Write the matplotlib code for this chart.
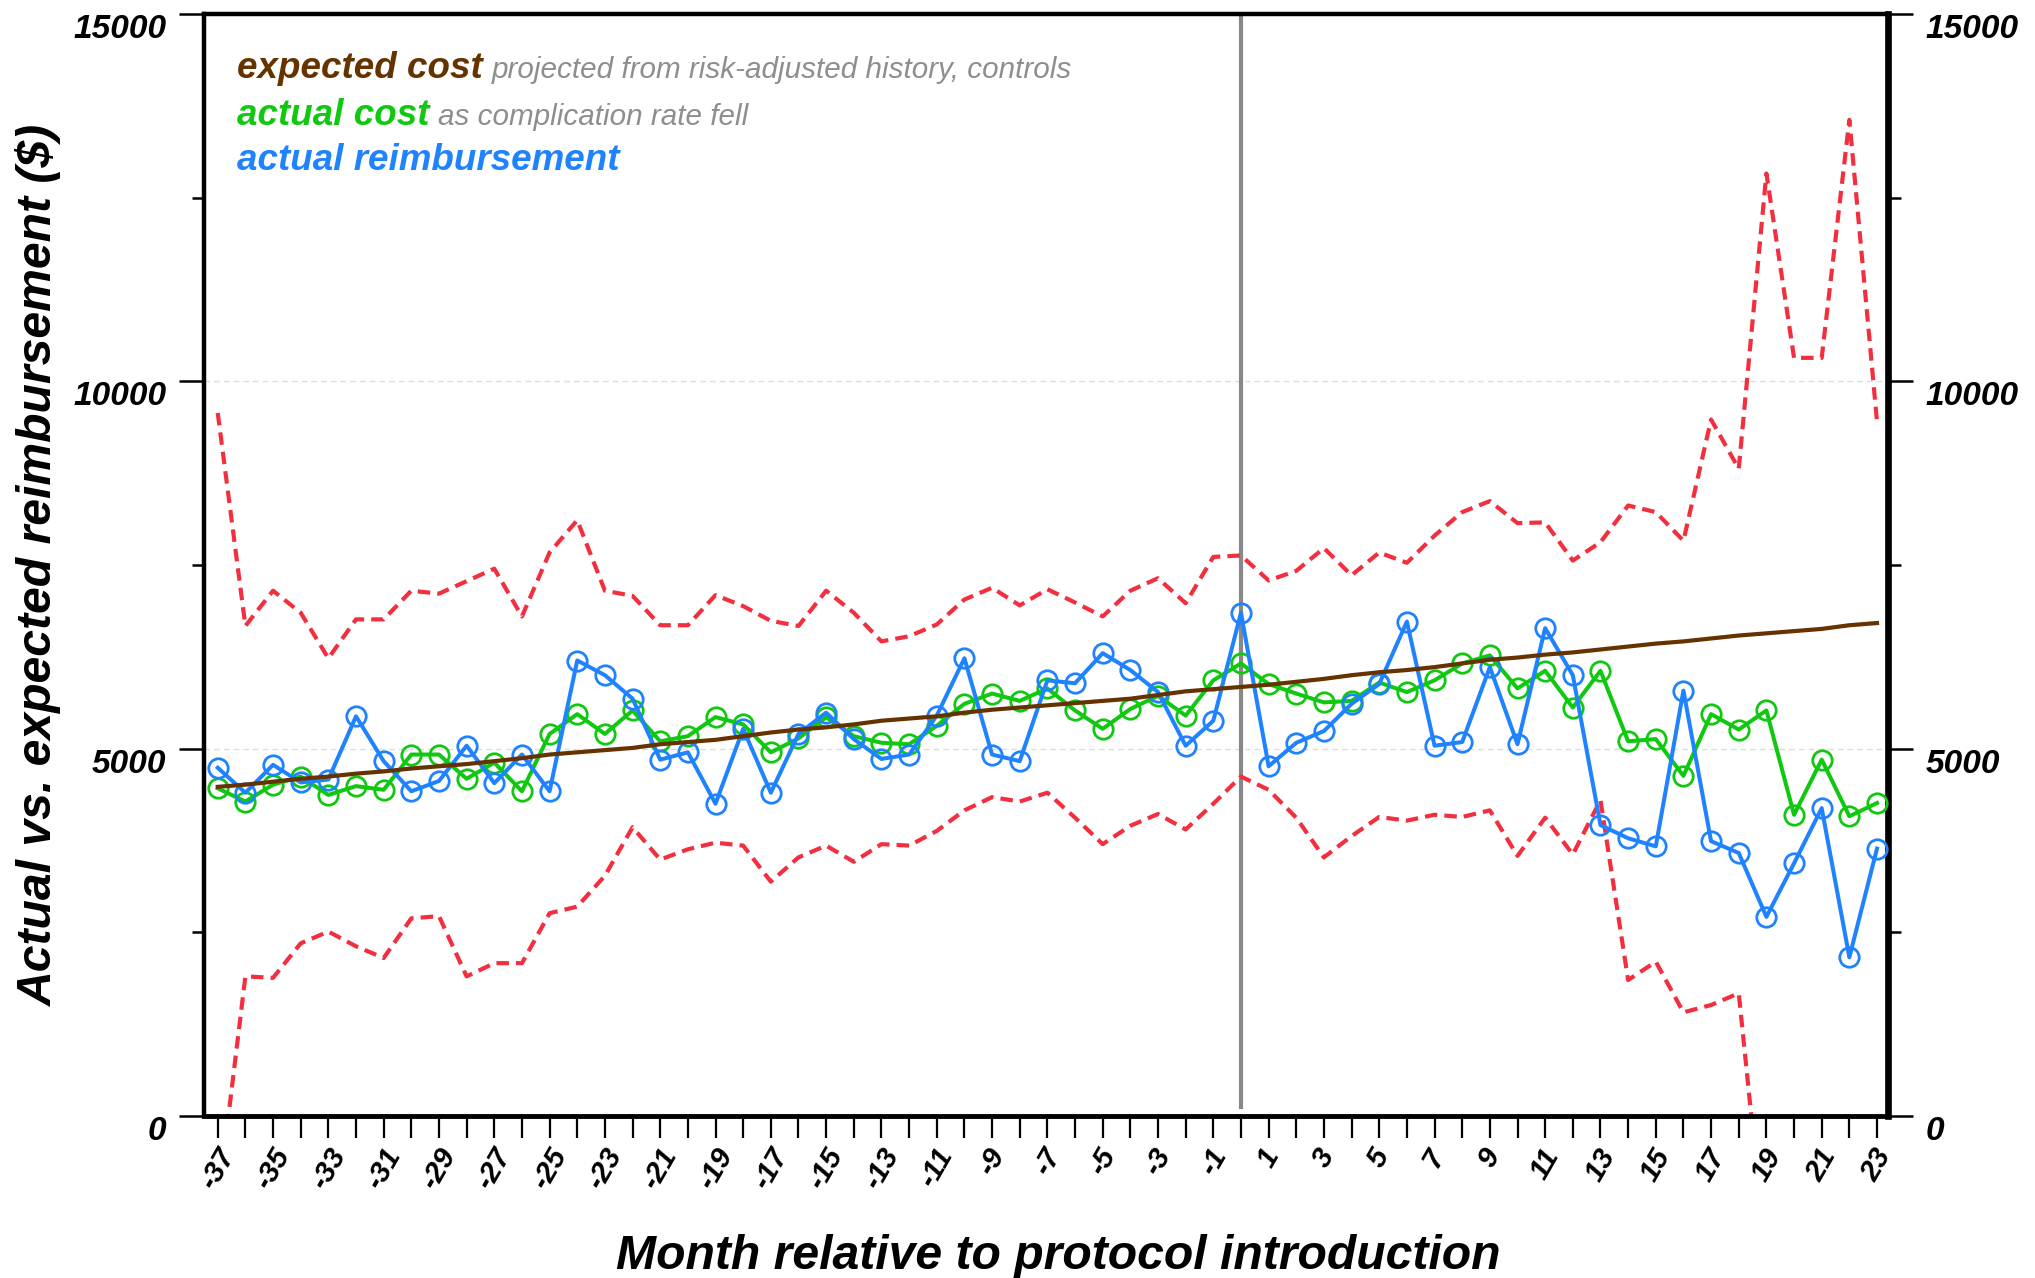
import numpy as np
import matplotlib.pyplot as plt

plt.rcParams['font.family'] = ['Liberation Sans', 'DejaVu Sans']
plt.rcParams['axes.unicode_minus'] = False

# Months relative to protocol introduction
months = np.arange(-37, 24)

# Expected cost (projected from risk-adjusted history)
expected_cost = [4480, 4510, 4550, 4590, 4620, 4660, 4690, 4730, 4760, 4790,
                 4830, 4870, 4920, 4950, 4980, 5010, 5060, 5090, 5120, 5170,
                 5220, 5260, 5290, 5330, 5380, 5410, 5440, 5490, 5530, 5560,
                 5590, 5620, 5650, 5680, 5730, 5780, 5810, 5840, 5870, 5910,
                 5950, 6000, 6040, 6070, 6110, 6160, 6210, 6240, 6280, 6310,
                 6350, 6390, 6430, 6460, 6500, 6540, 6570, 6600, 6630, 6680,
                 6710]

# Actual cost
actual_cost = [4460, 4280, 4510, 4620, 4370, 4490, 4440, 4920, 4920, 4590,
               4810, 4420, 5200, 5470, 5200, 5520, 5100, 5170, 5430, 5330,
               4950, 5140, 5430, 5170, 5080, 5060, 5310, 5610, 5750, 5650,
               5820, 5520, 5270, 5540, 5720, 5450, 5930, 6160, 5880, 5750,
               5630, 5650, 5900, 5770, 5930, 6160, 6270, 5820, 6060, 5560,
               6060, 5100, 5130, 4630, 5470, 5260, 5520, 4100, 4850, 4080,
               4260]

# Actual reimbursement
actual_reimb = [4740, 4400, 4780, 4540, 4580, 5440, 4830, 4420, 4560, 5040,
                4530, 4920, 4420, 6200, 6000, 5680, 4850, 4950, 4250, 5270,
                4400, 5200, 5490, 5130, 4860, 4920, 5450, 6230, 4920, 4830,
                5930, 5890, 6300, 6070, 5770, 5040, 5380, 6850, 4760, 5080,
                5240, 5610, 5880, 6730, 5040, 5090, 6110, 5060, 6640, 6000,
                3960, 3780, 3670, 5790, 3740, 3580, 2710, 3440, 4190, 2160,
                3640]

# Control limits (dashed red)
upper_limit = [9570, 6670, 7150, 6850, 6230, 6760, 6760, 7150, 7110, 7280,
               7450, 6800, 7670, 8110, 7150, 7080, 6680, 6680, 7090, 6940,
               6740, 6670, 7150, 6850, 6460, 6530, 6690, 7030, 7190, 6950,
               7170, 6990, 6800, 7150, 7320, 6980, 7610, 7630, 7290, 7420,
               7730, 7360, 7670, 7530, 7900, 8220, 8370, 8070, 8080, 7560,
               7810, 8310, 8220, 7830, 9480, 8810, 12830, 10320, 10320, 13560,
               9450]
lower_limit = [-1200, 1900, 1880, 2350, 2510, 2310, 2150, 2690, 2720, 1900,
               2080, 2080, 2760, 2850, 3270, 3930, 3490, 3630, 3720, 3680,
               3190, 3520, 3680, 3460, 3700, 3680, 3880, 4160, 4340, 4280,
               4400, 4060, 3700, 3950, 4110, 3900, 4250, 4620, 4440, 4060,
               3520, 3810, 4070, 4020, 4100, 4070, 4160, 3540, 4060, 3560,
               4300, 1850, 2100, 1410, 1510, 1670, -2000, np.nan, np.nan, np.nan,
               np.nan]

brown = '#663300'
green = '#11c811'
blue = '#1f82ff'
red = '#f22f3f'
gray_txt = '#8e8e8e'

fig = plt.figure(figsize=(20.35, 12.78), dpi=100)
ax = fig.add_axes([0.1002, 0.1268, 0.8276, 0.8622])

# Grid and protocol line
for yv in [5000, 10000]:
    ax.axhline(yv, color='#dddddd', lw=1, ls=(0, (4, 3)), zorder=0)
ax.axvline(0, ymin=0.008, ymax=1, color='#888888', lw=3, zorder=1)

# Series
dash = (0, (3, 1.7))
ax.plot(months, upper_limit, color=red, lw=3, ls=dash, zorder=2)
ax.plot(months, lower_limit, color=red, lw=3, ls=dash, zorder=2)
ax.plot(months, actual_cost, color=green, lw=2.9, marker='o', ms=14,
        mfc='none', mec=green, mew=2, zorder=3)
ax.plot(months, actual_reimb, color=blue, lw=2.9, marker='o', ms=14,
        mfc='none', mec=blue, mew=2, zorder=4)
ax.plot(months, expected_cost, color=brown, lw=3, zorder=5)

ax.set_xlim(-37.5, 23.4)
ax.set_ylim(0, 15000)

# Ticks
ax.set_xticks(months[::2])
ax.set_xticks(months, minor=True)
ax.set_yticks([0, 5000, 10000, 15000])
ax.set_yticks([2500, 7500, 12500], minor=True)

ax.tick_params(axis='x', which='both', direction='out', length=16, width=1.6, pad=4)
ax.tick_params(axis='y', which='major', direction='out', length=18, width=1.8,
               right=True, labelright=True, pad=9)
ax.tick_params(axis='y', which='minor', direction='out', length=9, width=1.8, right=True)

for lab in ax.get_xticklabels():
    lab.set_fontsize(21)
    lab.set_fontweight('bold')
    lab.set_fontstyle('italic')
    lab.set_rotation(60)
    lab.set_ha('center')
    lab.set_va('top')

for t in ax.yaxis.get_major_ticks():
    for lab in (t.label1, t.label2):
        lab.set_fontsize(24)
        lab.set_fontweight('bold')
        lab.set_fontstyle('italic')
        lab.set_va('top')

# Spines
ax.spines['left'].set_linewidth(3.2)
ax.spines['top'].set_linewidth(3.2)
ax.spines['right'].set_linewidth(4.8)
ax.spines['bottom'].set_linewidth(3.5)

# Axis labels
ax.set_xlabel('Month relative to protocol introduction', fontsize=34.7,
              fontweight='bold', style='italic')
ax.xaxis.label.set_va('center')
ax.xaxis.set_label_coords(0.507, -0.128)
ax.set_ylabel('Actual vs. expected reimbursement ($)', fontsize=34.7,
              fontweight='bold', style='italic')
ax.yaxis.label.set_va('center')
ax.yaxis.set_label_coords(-0.098, 0.5)

# Legend written as coloured text
legend_rows = [('expected cost', 'projected from risk-adjusted history, controls', brown, 78),
               ('actual cost', 'as complication rate fell', green, 125),
               ('actual reimbursement', '', blue, 170)]
renderer = fig.canvas.get_renderer()
W, H = fig.bbox.width, fig.bbox.height
for name, note, col, ypix in legend_rows:
    t = fig.text(237 / W, 1 - ypix / H, name, color=col, fontsize=26.5,
                 fontweight='bold', style='italic', va='baseline')
    if note:
        bb = t.get_window_extent(renderer=renderer)
        fig.text((bb.x1 + 9) / W, 1 - ypix / H, note, color=gray_txt,
                 fontsize=21.3, style='italic', va='baseline')

plt.savefig('out.png', dpi=100)
